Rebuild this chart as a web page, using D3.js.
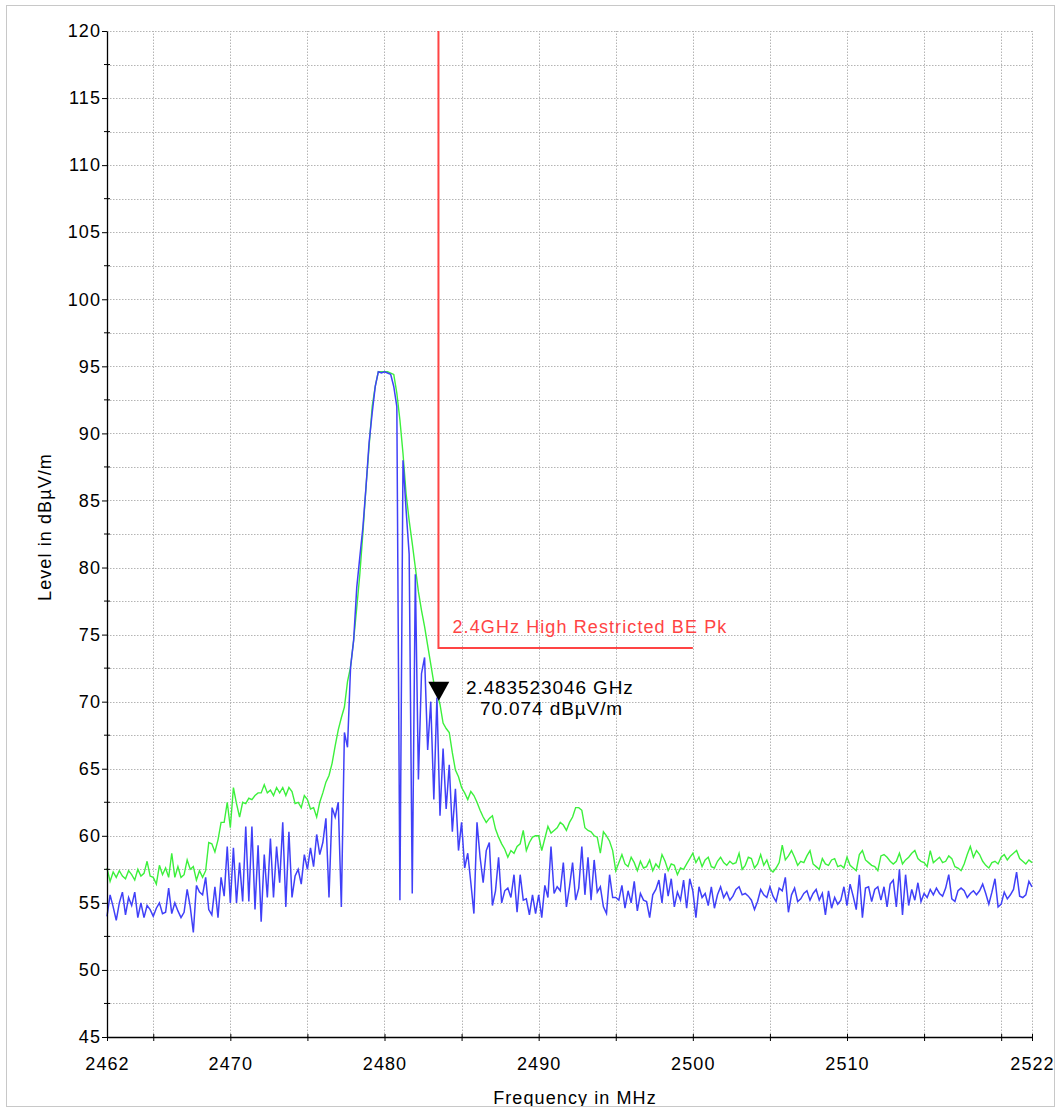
<!DOCTYPE html>
<html lang="en">
<head>
<meta charset="utf-8">
<title>Level vs Frequency</title>
<script src="https://cdnjs.cloudflare.com/ajax/libs/d3/7.8.5/d3.min.js"></script>
<style>
  body { margin: 0; background: #fff; }
  svg { display: block; font-family: "Liberation Sans", Arial, sans-serif; }
</style>
</head>
<body>
<svg id="chart" width="1058" height="1110"></svg>
<script>
// sweep: 2462 .. 2522 MHz, one point every 0.2 MHz
var freqStart = 2462, freqStep = 0.2;

// green trace (peak)
var peakTrace = [
  57.6,56.6,57.3,56.9,57.4,57.0,56.8,57.4,57.1,56.7,57.5,57.0,57.2,58.1,57.0,56.9,56.4,57.8,57.1,57.6,56.9,58.7,56.9,57.7,56.9,
  57.1,58.2,57.5,57.7,56.7,57.4,56.9,57.4,59.5,59.4,58.8,59.7,61.0,61.0,62.5,60.6,63.6,62.4,61.4,62.5,62.4,62.8,62.7,63.0,63.2,
  63.2,63.8,63.2,63.4,63.0,63.6,63.2,63.6,63.0,63.6,63.3,62.4,62.5,62.1,63.0,62.7,62.0,62.1,61.4,62.5,63.2,64.0,64.5,65.4,66.7,
  67.9,68.8,69.6,71.5,72.6,74.6,77.0,79.5,82.6,86.0,89.0,92.0,93.5,94.6,94.6,94.6,94.6,94.5,94.4,93.0,91.0,88.5,85.5,83.5,81.8,
  80.0,78.2,76.8,75.6,74.2,72.8,71.4,70.6,69.8,68.4,68.0,67.7,66.2,64.9,64.4,63.6,63.2,62.7,63.3,63.0,62.5,61.9,61.4,61.0,61.3,
  61.5,60.5,59.9,59.4,59.0,58.4,58.9,58.7,59.2,59.4,60.4,58.9,59.5,59.9,60.0,60.0,58.9,59.8,60.7,60.2,60.4,60.6,61.0,60.8,60.4,
  61.0,61.4,62.1,62.1,61.9,60.6,60.4,60.3,60.0,59.9,58.7,60.3,60.0,59.6,58.9,57.4,58.0,58.6,57.9,57.7,58.4,58.0,57.4,58.1,57.6,
  57.7,58.2,57.4,57.9,57.6,58.6,58.1,57.4,57.9,57.8,57.1,57.6,57.5,57.9,58.3,58.7,58.0,58.4,57.7,58.2,58.4,57.7,57.6,58.1,58.4,
  58.0,57.8,58.1,57.9,58.0,58.7,57.5,57.8,58.4,58.3,57.6,57.9,58.6,57.8,58.2,57.5,57.3,57.6,58.0,59.3,58.2,58.5,58.9,58.4,57.8,
  58.1,58.0,58.5,58.9,57.9,57.7,57.5,58.3,57.9,57.8,58.2,58.3,57.7,57.8,57.6,58.4,57.8,57.6,57.4,58.6,58.9,58.2,58.0,57.8,57.7,
  57.4,58.5,58.6,58.4,58.1,57.9,58.1,58.7,57.9,58.2,58.4,58.7,58.9,58.3,58.1,58.0,57.7,58.9,58.0,58.2,58.4,58.0,58.1,58.5,58.3,
  57.7,57.6,57.4,57.9,58.6,59.2,58.4,58.9,58.6,58.1,57.8,57.6,58.0,58.1,57.9,58.4,58.6,58.2,58.5,58.7,58.9,58.3,58.1,57.9,58.2,
  58.0
];

// blue trace
var avgTrace = [
  54.0,55.6,54.7,53.7,55.0,55.8,54.1,55.4,54.8,55.8,53.9,55.0,53.9,54.8,54.5,54.0,54.6,55.0,54.2,54.3,56.1,54.2,55.0,54.4,53.9,
  54.3,56.0,54.7,52.8,56.3,55.8,55.6,56.9,54.5,54.1,56.2,53.9,56.9,55.5,59.2,55.0,59.1,55.0,58.0,55.1,60.7,55.1,60.7,54.5,59.3,
  53.6,58.6,55.4,59.8,55.4,59.2,56.5,61.0,54.7,60.3,55.4,57.0,57.5,56.4,58.6,57.5,59.1,57.7,60.1,58.6,59.5,61.3,55.4,62.1,61.4,
  62.5,54.7,67.7,66.6,72.6,74.6,78.5,80.8,83.0,86.0,89.3,91.5,93.5,94.6,94.5,94.6,94.5,94.4,93.5,92.0,55.2,88.0,84.3,81.0,55.7,
  79.5,64.2,72.1,73.3,66.4,70.0,62.7,70.3,61.5,66.5,62.0,65.3,60.3,63.5,58.9,61.0,57.6,58.7,56.5,54.2,61.0,58.4,56.5,58.9,59.5,
  54.8,55.9,58.4,55.0,55.9,56.1,55.4,57.1,54.3,57.1,55.2,55.3,54.1,55.6,54.2,55.6,53.9,56.3,55.4,59.2,55.7,56.2,55.9,58.0,54.7,
  56.2,58.0,55.2,56.1,59.2,55.6,58.4,55.2,58.2,55.8,56.2,54.7,54.2,57.1,55.4,55.4,55.2,56.3,54.6,55.9,55.0,56.6,54.4,55.7,55.2,
  55.1,53.9,55.6,56.0,56.7,55.0,57.2,55.5,56.8,54.7,55.8,55.2,56.7,54.6,56.8,55.9,53.9,56.2,55.4,55.7,54.8,56.2,54.6,55.6,56.2,
  55.4,55.8,55.2,55.5,56.0,56.2,55.6,55.7,55.5,55.2,54.5,55.1,56.0,55.6,55.4,56.2,55.5,55.1,56.1,55.9,56.9,54.3,55.6,56.1,55.1,
  55.3,55.7,55.9,55.2,55.7,56.0,55.2,55.7,54.1,55.9,54.6,55.4,54.9,55.2,56.2,54.8,56.4,55.5,54.5,57.1,53.9,56.1,56.2,55.1,56.0,
  56.2,55.2,56.2,54.7,56.4,56.7,54.7,57.5,54.1,57.1,54.8,56.0,55.2,56.5,55.1,55.7,55.4,56.0,55.6,56.1,55.7,55.5,56.1,57.1,55.3,
  55.1,55.9,56.1,55.9,55.4,55.7,55.9,55.6,55.9,56.4,55.7,54.9,55.8,56.8,54.7,54.9,55.8,55.3,55.6,56.0,57.3,55.5,55.4,55.6,56.6,
  56.2
];

var yTicks = [45,50,55,60,65,70,75,80,85,90,95,100,105,110,115,120];
var yMinor = [47.5,52.5,57.5,62.5,67.5,72.5,77.5,82.5,87.5,92.5,97.5,102.5,107.5,112.5,117.5];
var xTicks = [2462,2465,2470,2475,2480,2485,2490,2495,2500,2505,2510,2515,2520,2522];
var xLabels = [2462,2470,2480,2490,2500,2510,2522];

var limitFreq = [2483.5, 2483.5, 2500];
var limitLevel = [120, 74, 74];
var limitName = "2.4GHz High Restricted BE Pk";

var markerFreq = 2483.523046, markerLevel = 70.074;
var markerText = ["2.483523046 GHz", "70.074 dBµV/m"];

var svg = d3.select("#chart");
var x = d3.scaleLinear().domain([2462, 2522]).range([107, 1032]);
var y = d3.scaleLinear().domain([45, 120]).range([1037, 31]);

var toPoints = arr => arr.map((v, i) => ({ f: freqStart + i * freqStep, v: v }));

// dotted grid
var grid = svg.append("g").attr("stroke", "#b4b4b4").attr("stroke-dasharray", "1.5,1.5").attr("stroke-width", 1);
grid.selectAll(".gh").data(yTicks.concat(yMinor).filter(d => d > 45)).enter().append("line")
  .attr("x1", x(2462)).attr("x2", x(2522))
  .attr("y1", d => Math.round(y(d)) + 0.5).attr("y2", d => Math.round(y(d)) + 0.5);
grid.selectAll(".gv").data(xTicks.filter(d => d > 2462)).enter().append("line")
  .attr("y1", y(45)).attr("y2", y(120))
  .attr("x1", d => Math.round(x(d)) + 0.5).attr("x2", d => Math.round(x(d)) + 0.5);

// traces
var line = d3.line().x(d => x(d.f)).y(d => y(d.v));
svg.append("path").datum(toPoints(peakTrace))
  .attr("d", line).attr("fill", "none").attr("stroke", "#3cf03c").attr("stroke-width", 1.4);
svg.append("path").datum(toPoints(avgTrace))
  .attr("d", line).attr("fill", "none").attr("stroke", "#4040f8").attr("stroke-width", 1.5);

// limit line
var limitPts = limitFreq.map((f, i) => ({ f: f, v: limitLevel[i] }));
svg.append("path").datum(limitPts)
  .attr("d", line).attr("fill", "none").attr("stroke", "#ff4444").attr("stroke-width", 2);
svg.append("text")
  .attr("x", x(limitFreq[1]) + 14).attr("y", y(limitLevel[1]) - 15)
  .attr("fill", "#ff4444").style("font-size", "18px").style("letter-spacing", "1.1px")
  .text(limitName);

// axes
var yAxis = d3.axisLeft(y).tickValues(yTicks).tickSizeInner(5).tickSizeOuter(0).tickPadding(1);
var gy = svg.append("g").attr("transform", "translate(107,0)").call(yAxis);
gy.selectAll("text").style("font-size", "18px").style("letter-spacing", "1.1px").attr("fill", "#000");

var xAxis = d3.axisBottom(x).tickValues(xTicks).tickSizeInner(4).tickSizeOuter(0).tickPadding(16)
  .tickFormat(d => xLabels.indexOf(d) >= 0 ? d : "");
var gx = svg.append("g").attr("transform", "translate(0,1037)").call(xAxis);
gx.selectAll("text").style("font-size", "18px").style("letter-spacing", "1.1px").attr("fill", "#000");
gx.selectAll(".tick line").attr("y1", -3);
gy.selectAll(".tick line").attr("x2", -5).attr("x1", 0);
[gx, gy].forEach(g => { g.select(".domain").attr("stroke", "#000").attr("stroke-width", 1.3); g.attr("font-family", null); });

svg.append("g").selectAll("line").data(yMinor).enter().append("line")
  .attr("x1", 104).attr("x2", 110)
  .attr("y1", d => y(d)).attr("y2", d => y(d)).attr("stroke", "#000");

// marker
var mx = x(markerFreq), my = y(markerLevel);
svg.append("path")
  .attr("d", "M" + mx + "," + my + " L" + (mx - 10.5) + "," + (my - 19) + " L" + (mx + 10.5) + "," + (my - 19) + " Z")
  .attr("fill", "#000");
svg.append("text").attr("x", 466).attr("y", 694).style("font-size", "19px").style("letter-spacing", "0.9px").text(markerText[0]);
svg.append("text").attr("x", 480).attr("y", 715).style("font-size", "19px").style("letter-spacing", "0.9px").text(markerText[1]);

// axis titles
svg.append("text")
  .attr("transform", "translate(51,527) rotate(-90)")
  .attr("text-anchor", "middle").style("font-size", "18px").style("letter-spacing", "1.1px")
  .text("Level in dBµV/m");
svg.append("text")
  .attr("x", 575).attr("y", 1104)
  .attr("text-anchor", "middle").style("font-size", "18px").style("letter-spacing", "1.1px")
  .text("Frequency in MHz");

// outer frame, clipping the bottom title like the original
svg.append("rect").attr("x", 0).attr("y", 1106.5).attr("width", 1058).attr("height", 4).attr("fill", "#fff");
svg.append("rect").attr("x", 6.5).attr("y", 5.5).attr("width", 1048).attr("height", 1101)
  .attr("fill", "none").attr("stroke", "#c8c8c8");
</script>
</body>
</html>
